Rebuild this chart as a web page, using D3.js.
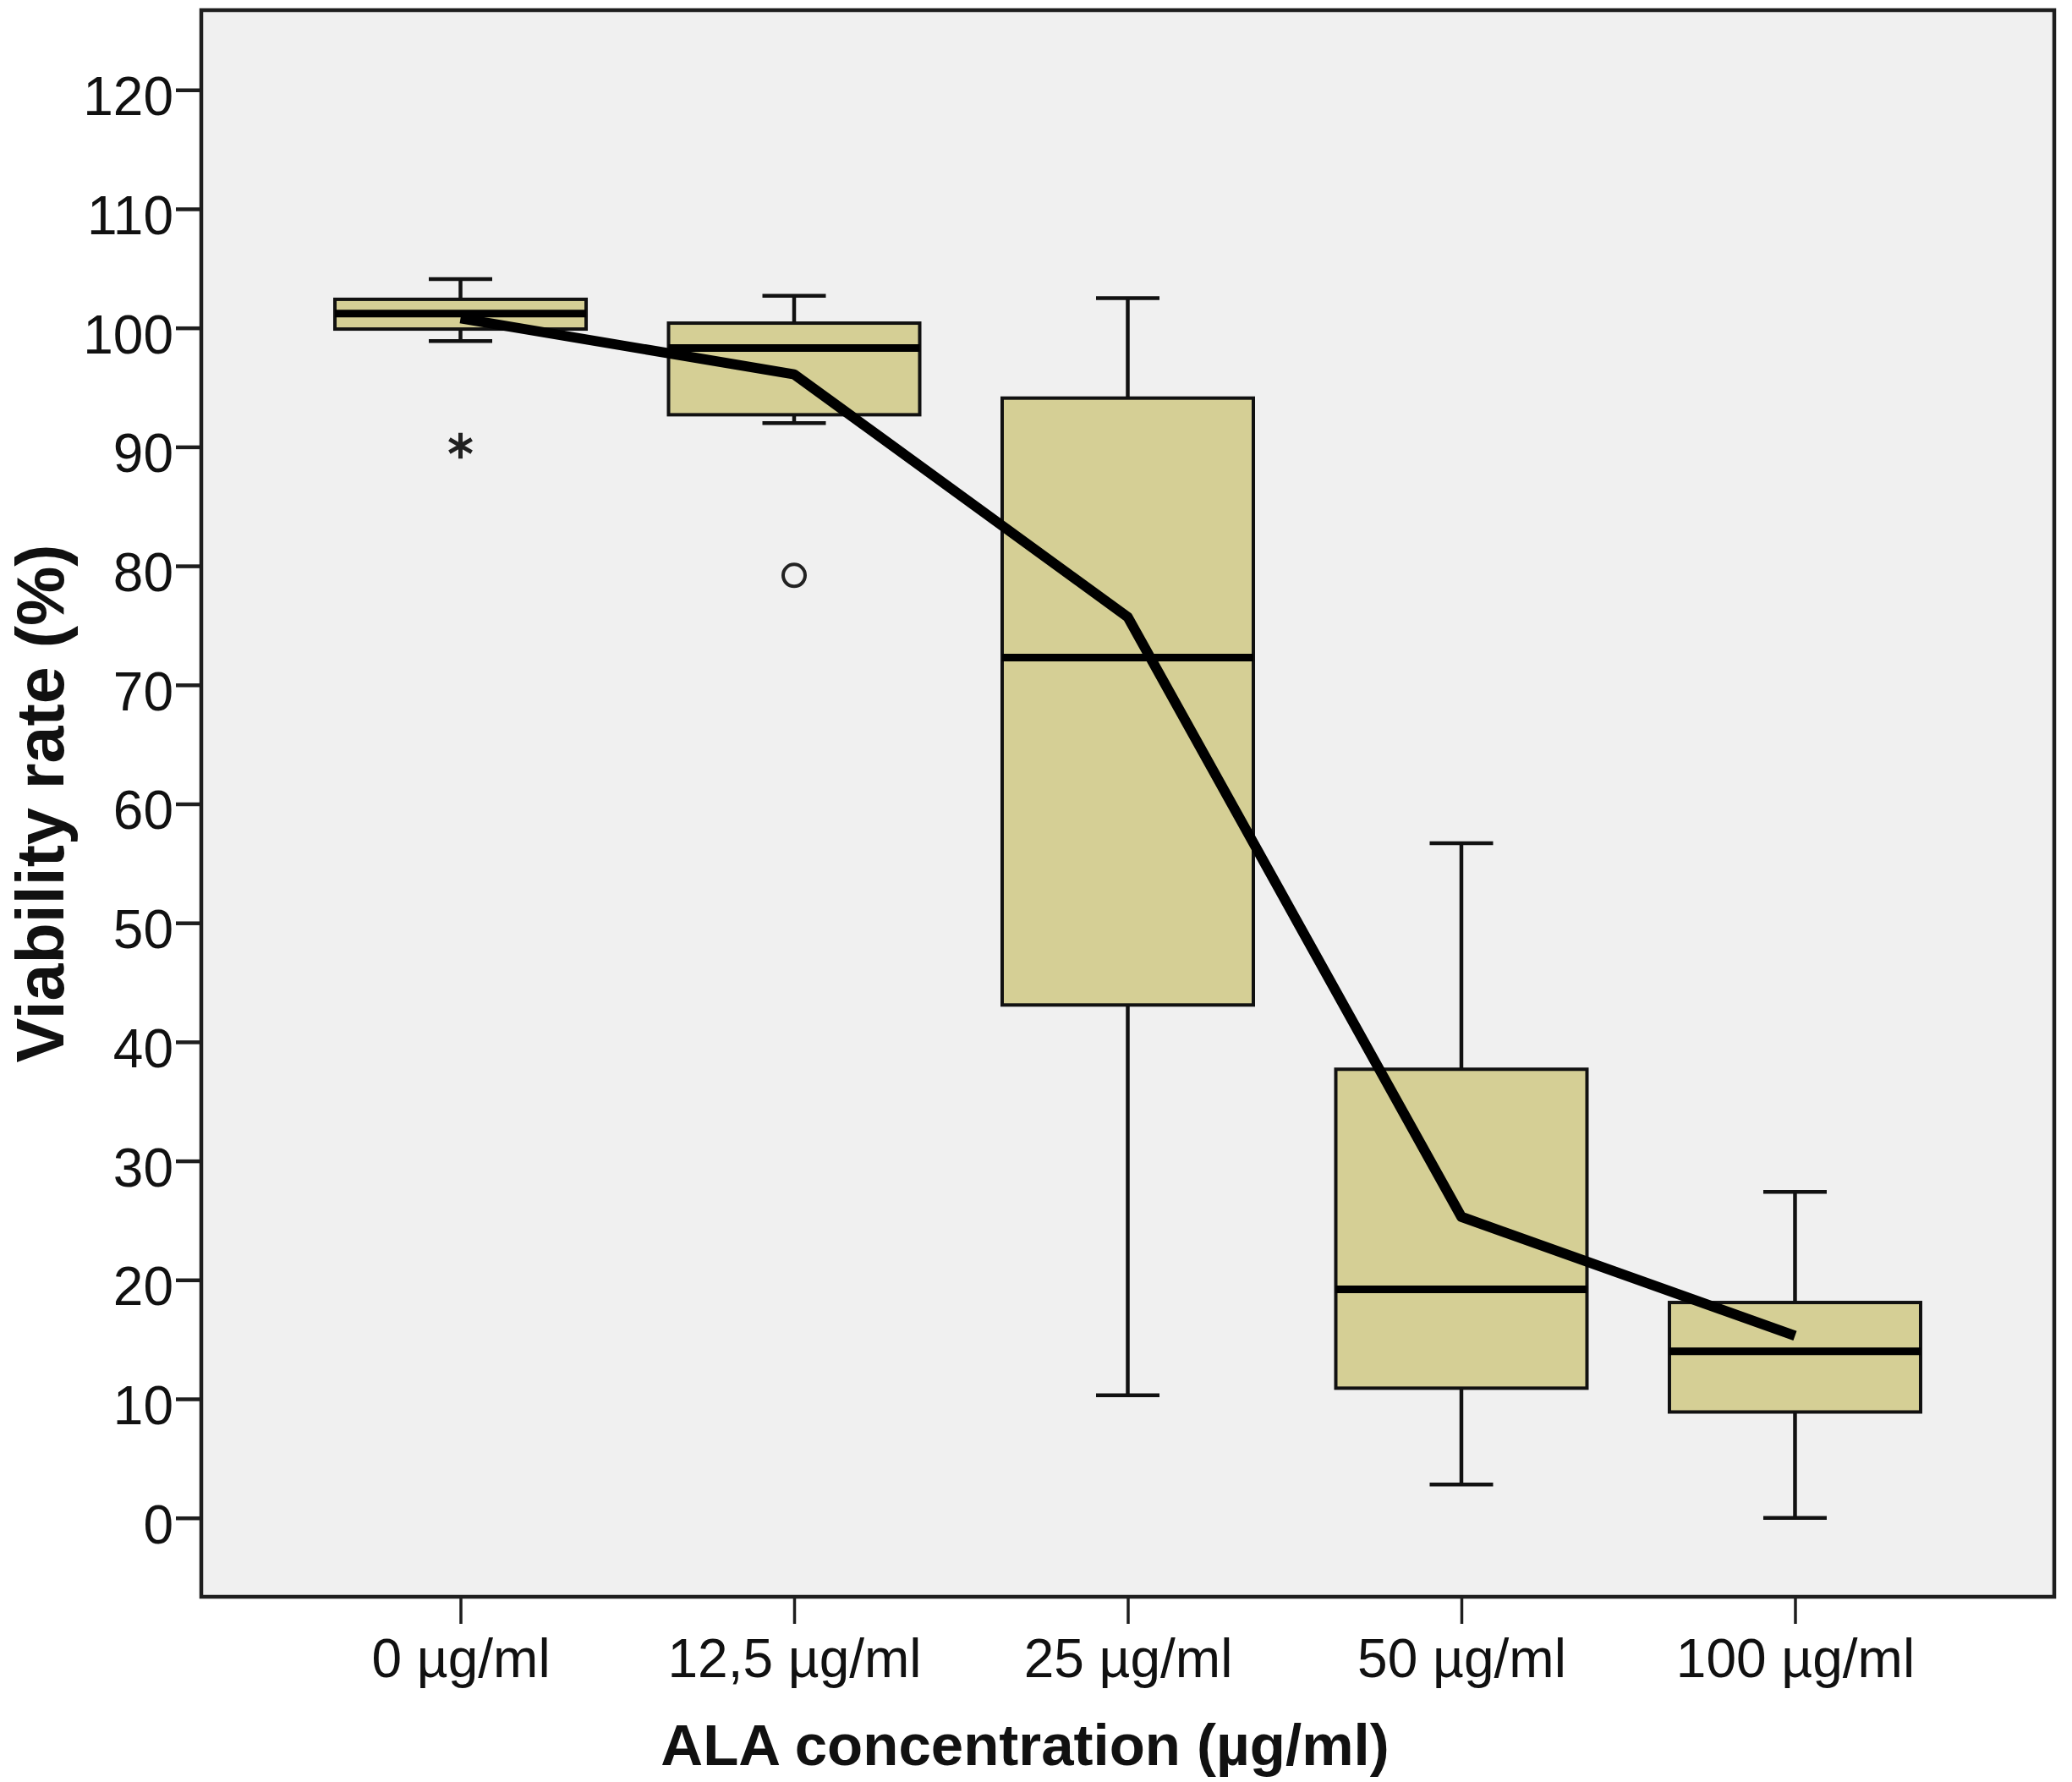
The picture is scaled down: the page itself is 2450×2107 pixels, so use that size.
<!DOCTYPE html>
<html>
<head>
<meta charset="utf-8">
<script src="https://cdn.jsdelivr.net/npm/d3@7/dist/d3.min.js"></script>
<style>
  html, body { margin: 0; padding: 0; background: #ffffff; }
  svg { display: block; }
  text { font-family: "Liberation Sans", Arial, sans-serif; fill: #111; }
</style>
</head>
<body>
<svg id="chart" width="2450" height="2107"></svg>
<script>
// ---- data ----
const categories  = ["0 µg/ml", "12,5 µg/ml", "25 µg/ml", "50 µg/ml", "100 µg/ml"];
const whiskerHigh = [104.1, 102.7, 102.5, 56.7, 27.4];
const q3          = [102.4, 100.4, 94.1, 37.7, 18.1];
const medians     = [101.2, 98.3, 72.3, 19.2, 14.0];
const q1          = [99.9, 92.7, 43.1, 10.9, 8.9];
const whiskerLow  = [98.9, 92.0, 10.3, 2.8, 0.0];
const means       = [100.8, 96.1, 75.7, 25.3, 15.3];
const extremeCats = ["0 µg/ml"];      // asterisk markers
const extremeVals = [90.1];
const outlierCats = ["12,5 µg/ml"];   // circle markers
const outlierVals = [79.2];
const yTicks      = [0, 10, 20, 30, 40, 50, 60, 70, 80, 90, 100, 110, 120];
const xTitle = "ALA concentration (µg/ml)";
const yTitle = "Viability rate (%)";

// ---- layout ----
const W = 2450, H = 2107;
const plot = { left: 238, right: 2429, top: 12, bottom: 1888 };
const boxW = 297, capW = 75;

const svg = d3.select("#chart");

const x = d3.scalePoint().domain(categories).range([plot.left, plot.right]).padding(0.777);
const y = d3.scaleLinear().domain([-6.63, 126.7]).range([plot.bottom, plot.top]);

// plot background
svg.append("rect")
  .attr("x", plot.left).attr("y", plot.top)
  .attr("width", plot.right - plot.left).attr("height", plot.bottom - plot.top)
  .attr("fill", "#f0f0f0");

const boxes = categories.map((c, i) => ({
  c, hi: whiskerHigh[i], q3: q3[i], med: medians[i], q1: q1[i], lo: whiskerLow[i]
}));

const g = svg.append("g");
const bg = g.selectAll("g.box").data(boxes).join("g").attr("class", "box");

const wW = 4.5;
// whiskers
bg.append("line")
  .attr("x1", d => x(d.c)).attr("x2", d => x(d.c))
  .attr("y1", d => y(d.hi)).attr("y2", d => y(d.q3))
  .attr("stroke", "#111").attr("stroke-width", wW);
bg.append("line")
  .attr("x1", d => x(d.c)).attr("x2", d => x(d.c))
  .attr("y1", d => y(d.q1)).attr("y2", d => y(d.lo))
  .attr("stroke", "#111").attr("stroke-width", wW);
// caps
bg.append("line")
  .attr("x1", d => x(d.c) - capW / 2).attr("x2", d => x(d.c) + capW / 2)
  .attr("y1", d => y(d.hi)).attr("y2", d => y(d.hi))
  .attr("stroke", "#111").attr("stroke-width", wW);
bg.append("line")
  .attr("x1", d => x(d.c) - capW / 2).attr("x2", d => x(d.c) + capW / 2)
  .attr("y1", d => y(d.lo)).attr("y2", d => y(d.lo))
  .attr("stroke", "#111").attr("stroke-width", wW);
// box
bg.append("rect")
  .attr("x", d => x(d.c) - boxW / 2).attr("width", boxW)
  .attr("y", d => y(d.q3)).attr("height", d => y(d.q1) - y(d.q3))
  .attr("fill", "#d5cf95").attr("stroke", "#111").attr("stroke-width", 4);
// median
bg.append("line")
  .attr("x1", d => x(d.c) - boxW / 2).attr("x2", d => x(d.c) + boxW / 2)
  .attr("y1", d => y(d.med)).attr("y2", d => y(d.med))
  .attr("stroke", "#000").attr("stroke-width", 9);

// outliers (circles)
g.selectAll("circle.outlier")
  .data(outlierCats.map((c, i) => ({ c, v: outlierVals[i] })))
  .join("circle").attr("class", "outlier")
  .attr("cx", d => x(d.c)).attr("cy", d => y(d.v)).attr("r", 13)
  .attr("fill", "none").attr("stroke", "#222").attr("stroke-width", 4);

// extremes (asterisks)
g.selectAll("path.extreme")
  .data(extremeCats.map((c, i) => ({ c, v: extremeVals[i] })))
  .join("path").attr("class", "extreme")
  .attr("transform", d => `translate(${x(d.c)},${y(d.v)})`)
  .attr("d", d3.symbol(d3.symbolAsterisk, 650))
  .attr("fill", "none").attr("stroke", "#222").attr("stroke-width", 5);

// mean line
const line = d3.line().x(d => x(d.c)).y(d => y(d.v));
g.append("path")
  .datum(categories.map((c, i) => ({ c, v: means[i] })))
  .attr("d", line)
  .attr("fill", "none").attr("stroke", "#000")
  .attr("stroke-width", 12).attr("stroke-linejoin", "round").attr("stroke-linecap", "butt");

// frame
svg.append("rect")
  .attr("x", plot.left).attr("y", plot.top)
  .attr("width", plot.right - plot.left).attr("height", plot.bottom - plot.top)
  .attr("fill", "none").attr("stroke", "#1e1e1e").attr("stroke-width", 4.5);

// y axis
const yAxis = svg.append("g")
  .attr("transform", `translate(${plot.left},0)`)
  .call(d3.axisLeft(y).tickValues(yTicks).tickSize(30).tickPadding(3).tickFormat(d3.format("d")));
yAxis.select(".domain").remove();
yAxis.selectAll(".tick line").attr("stroke", "#1e1e1e").attr("stroke-width", 4.5);
yAxis.selectAll(".tick text")
  .attr("font-size", 64).attr("font-family", "Liberation Sans, Arial, sans-serif")
  .attr("fill", "#111").attr("dy", "0.46em");

// x axis
const xAxis = svg.append("g")
  .attr("transform", `translate(0,${plot.bottom})`)
  .call(d3.axisBottom(x).tickSize(32).tickPadding(18));
xAxis.select(".domain").remove();
xAxis.selectAll(".tick line").attr("stroke", "#1e1e1e").attr("stroke-width", 3.5);
xAxis.selectAll(".tick text")
  .attr("font-size", 64).attr("font-family", "Liberation Sans, Arial, sans-serif")
  .attr("fill", "#111");

// axis titles
svg.append("text")
  .attr("x", 1212).attr("y", 2087)
  .attr("text-anchor", "middle")
  .attr("font-size", 69).attr("font-weight", "bold")
  .text(xTitle);

svg.append("text")
  .attr("transform", `translate(75,${(plot.top + plot.bottom) / 2}) rotate(-90)`)
  .attr("text-anchor", "middle")
  .attr("font-size", 79).attr("font-weight", "bold")
  .text(yTitle);
</script>
</body>
</html>
